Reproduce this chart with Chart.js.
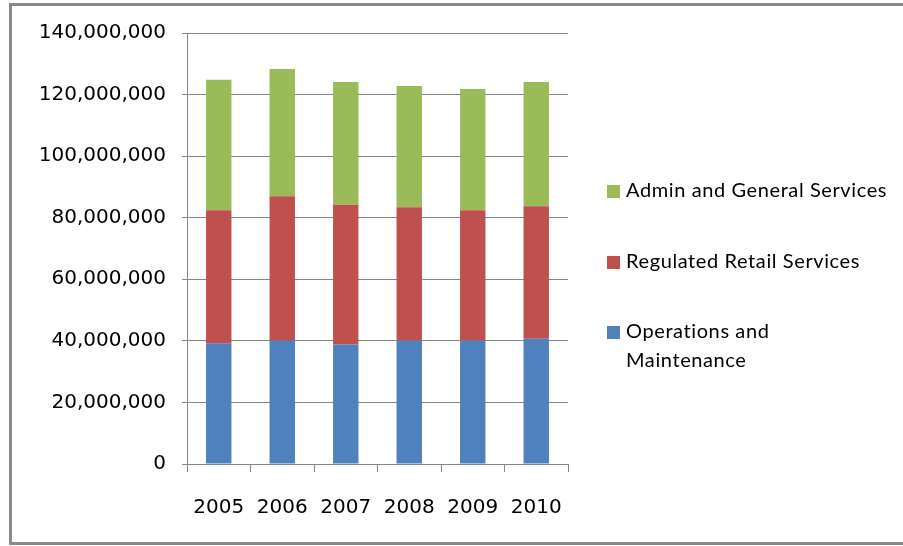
<!DOCTYPE html>
<html>
<head>
<meta charset="utf-8">
<script src="https://cdn.jsdelivr.net/npm/chart.js@4.4.0/dist/chart.umd.min.js"></script>
<style>
  html, body { margin: 0; padding: 0; background: #fff; }
  #wrap { width: 903px; height: 546px; position: relative; }
</style>
</head>
<body>
<div id="wrap"><canvas id="myChart" width="903" height="546"></canvas></div>
<script>
var years = ['2005', '2006', '2007', '2008', '2009', '2010'];
var operations = [39200000, 40100000, 38800000, 40100000, 40100000, 40700000];
var retail = [43200000, 46900000, 45400000, 43300000, 42300000, 43000000];
var admin = [42400000, 41300000, 39900000, 39400000, 39400000, 40400000];
var legendLines = [
    ['Admin and General Services'],
    ['Regulated Retail Services'],
    ['Operations and', 'Maintenance']
];

var gridGray = '#868686';

// frame round the chart + the legend on the right
var frameAndLegend = {
    id: 'frameAndLegend',
    beforeDraw: function (chart) {
        var ctx = chart.ctx;
        ctx.save();
        ctx.strokeStyle = '#8a8a8a';
        ctx.lineWidth = 3;
        ctx.strokeRect(10.5, 4.5, 1000, 539);
        ctx.restore();
    },
    afterDraw: function (chart) {
        var ctx = chart.ctx,
            sets = chart.data.datasets,
            ys = [191, 262, 332],
            i, j, ds;
        ctx.save();
        ctx.font = '20px Lato';
        ctx.letterSpacing = '0.6px';
        ctx.textBaseline = 'middle';
        // legend lists the top series first
        for (i = 0; i < sets.length; i++) {
            ds = sets[sets.length - 1 - i];
            ctx.fillStyle = ds.backgroundColor;
            ctx.fillRect(607, ys[i] - 6, 13, 13);
            ctx.fillStyle = '#000';
            for (j = 0; j < legendLines[i].length; j++) {
                ctx.fillText(legendLines[i][j], 626, ys[i] + j * 29);
            }
        }
        ctx.restore();
    }
};

new Chart(document.getElementById('myChart').getContext('2d'), {
    type: 'bar',
    data: {
        labels: years,
        datasets: [
            { label: 'Operations and Maintenance', data: operations, backgroundColor: '#4F81BD' },
            { label: 'Regulated Retail Services', data: retail, backgroundColor: '#C0504D' },
            { label: 'Admin and General Services', data: admin, backgroundColor: '#9BBB59' }
        ]
    },
    options: {
        responsive: false,
        animation: false,
        layout: { padding: { left: 20, right: 335, top: 33, bottom: 0 } },
        datasets: { bar: { categoryPercentage: 1, barPercentage: 0.4 } },
        plugins: { legend: { display: false }, tooltip: { enabled: false } },
        scales: {
            x: {
                stacked: true,
                grid: { drawOnChartArea: false, tickLength: 8, color: gridGray, offset: true },
                border: { color: gridGray },
                ticks: { color: '#000', font: { family: 'DejaVu Sans', size: 20 }, padding: 24, maxRotation: 0 },
                afterFit: function (s) { s.height = 546 - 464; }
            },
            y: {
                stacked: true,
                min: 0,
                max: 140000000,
                grid: { color: gridGray, tickLength: 5 },
                border: { color: gridGray },
                ticks: {
                    stepSize: 20000000,
                    color: '#000',
                    font: { family: 'DejaVu Sans', size: 20 },
                    padding: 16,
                    callback: function (v) { return v.toLocaleString('en-US'); }
                },
                afterFit: function (s) { s.width = 187 - 20; }
            }
        }
    },
    plugins: [frameAndLegend]
});
</script>
</body>
</html>
